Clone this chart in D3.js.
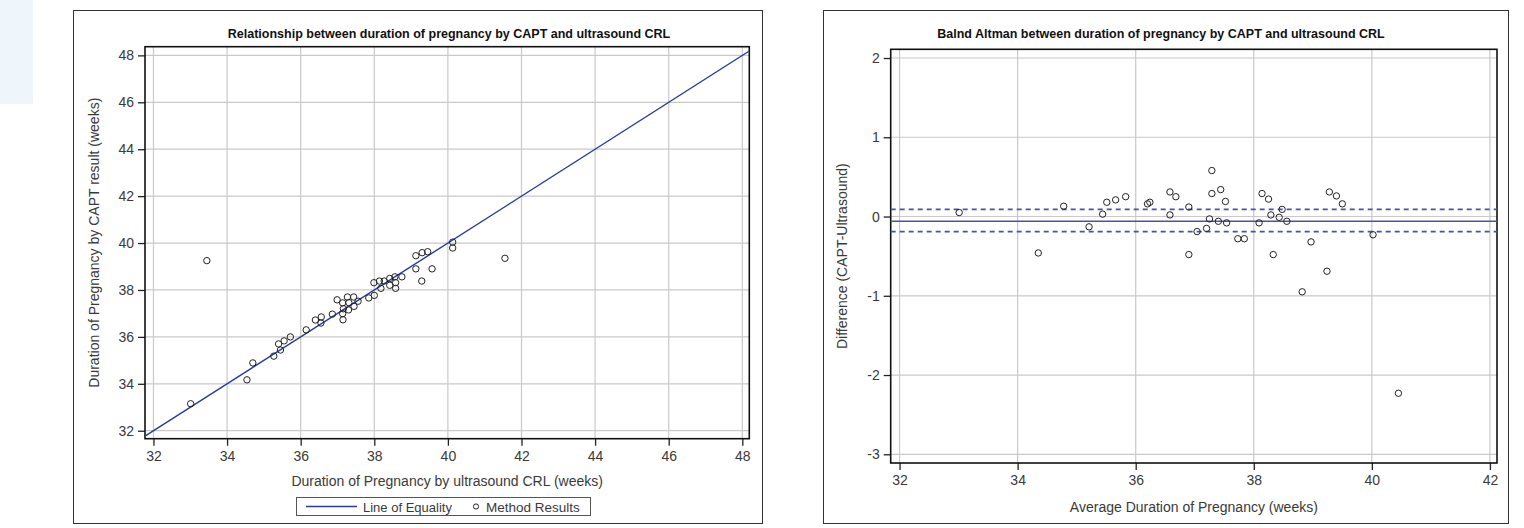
<!DOCTYPE html>
<html>
<head>
<meta charset="utf-8">
<script src="https://cdn.jsdelivr.net/npm/d3@7"></script>
<style>
  body { margin: 0; background: #fff; }
  svg { display: block; font-family: "Liberation Sans", Arial, Helvetica, sans-serif; }
</style>
</head>
<body>
<svg id="chart" width="1524" height="528"></svg>
<script>
// left panel: ultrasound CRL (x) vs CAPT (y)
const us_weeks = [33.01, 33.45, 34.54, 34.70, 35.27, 35.45, 35.40, 35.55, 35.72, 36.15,
  36.40, 36.55, 36.56, 36.86, 37.14, 37.15, 37.16, 37.30, 37.45, 36.99,
  37.27, 37.44, 37.14, 37.31, 37.56, 37.85, 38.00, 37.99, 38.14, 38.27,
  38.42, 38.56, 38.75, 38.58, 38.42, 38.58, 38.18, 39.13, 39.30, 39.45,
  39.13, 39.57, 39.29, 40.13, 40.13, 41.55];
const capt_weeks = [33.15, 39.25, 34.17, 34.89, 35.18, 35.44, 35.70, 35.83, 36.00, 36.30,
  36.72, 36.59, 36.85, 36.97, 36.99, 36.73, 37.20, 37.15, 37.30, 37.58,
  37.70, 37.70, 37.45, 37.46, 37.52, 37.66, 37.77, 38.31, 38.38, 38.38,
  38.49, 38.56, 38.56, 38.31, 38.20, 38.07, 38.07, 39.46, 39.59, 39.63,
  38.90, 38.90, 38.38, 40.04, 39.79, 39.35];

// right panel: Bland Altman
const avg_weeks = [33.01, 34.78, 35.21, 34.35, 35.44, 35.51, 35.66, 35.83, 36.20, 36.24,
  36.58, 36.68, 36.58, 36.90, 36.90, 37.04, 37.29, 37.29, 37.44, 37.52,
  37.25, 37.20, 37.40, 37.54, 37.73, 37.84, 38.09, 38.14, 38.25, 38.29,
  38.43, 38.48, 38.56, 38.33, 38.97, 39.28, 39.40, 39.50, 39.24, 40.02,
  38.82, 40.45];
const diff_weeks = [0.05, 0.13, -0.13, -0.46, 0.03, 0.18, 0.21, 0.25, 0.16, 0.18,
  0.31, 0.25, 0.02, 0.12, -0.48, -0.19, 0.58, 0.29, 0.34, 0.19,
  -0.03, -0.15, -0.06, -0.08, -0.28, -0.28, -0.08, 0.29, 0.22, 0.02,
  -0.01, 0.09, -0.06, -0.48, -0.32, 0.31, 0.26, 0.16, -0.69, -0.23,
  -0.95, -2.23];
const ba_mean = -0.06, ba_upper = 0.09, ba_lower = -0.19;

const left_ticks = [32, 34, 36, 38, 40, 42, 44, 46, 48];
const right_x_ticks = [32, 34, 36, 38, 40, 42];
const right_y_ticks = [-3, -2, -1, 0, 1, 2];

const svg = d3.select("#chart");
const grid_color = "#c9c9c9", text_color = "#3a3a3a";
const label_size = "14px", tick_size = "14px";

// faint tint at the top-left corner of the page
svg.append("rect").attr("x", 0).attr("y", 0).attr("width", 33).attr("height", 104).attr("fill", "#eef5fb");

// outer frames
svg.append("rect").attr("x", 73.5).attr("y", 10.5).attr("width", 689).attr("height", 513)
  .attr("fill", "none").attr("stroke", "#333");
svg.append("rect").attr("x", 823.5).attr("y", 10.5).attr("width", 685).attr("height", 513)
  .attr("fill", "none").attr("stroke", "#333");

const draw_panel = (cfg) => {
  const { x, y, xticks, yticks, title, title_x, xlabel, ylabel, ylabel_x, xlabel_y, id } = cfg;
  const [x0, x1] = x.range(), [y0, y1] = y.range();

  svg.append("clipPath").attr("id", id)
    .append("rect").attr("x", x0).attr("y", y1).attr("width", x1 - x0).attr("height", y0 - y1);

  const g = svg.append("g");
  g.selectAll(".vg").data(xticks).join("line")
    .attr("x1", d => x(d)).attr("x2", d => x(d)).attr("y1", y1).attr("y2", y0)
    .attr("stroke", grid_color).attr("stroke-width", 1.2);
  g.selectAll(".hg").data(yticks).join("line")
    .attr("x1", x0).attr("x2", x1).attr("y1", d => y(d)).attr("y2", d => y(d))
    .attr("stroke", grid_color).attr("stroke-width", 1.2);

  const xa = svg.append("g").attr("transform", `translate(0,${y0})`)
    .call(d3.axisBottom(x).tickValues(xticks).tickSize(7).tickPadding(5).tickFormat(d => String(d)));
  const ya = svg.append("g").attr("transform", `translate(${x0},0)`)
    .call(d3.axisLeft(y).tickValues(yticks).tickSize(7).tickPadding(4).tickFormat(d => String(d)));
  [xa, ya].forEach(a => {
    a.attr("font-size", null).attr("font-family", null);
    a.select(".domain").remove();
    a.selectAll("line").attr("stroke", "#222").attr("stroke-width", 1.3);
    a.selectAll("text").attr("fill", text_color).style("font-size", tick_size);
  });

  svg.append("rect").attr("x", x0).attr("y", y1).attr("width", x1 - x0).attr("height", y0 - y1)
    .attr("fill", "none").attr("stroke", "#111").attr("stroke-width", 1.6);

  svg.append("text").attr("x", title_x).attr("y", 38).attr("text-anchor", "middle")
    .style("font-size", "12.5px").style("font-weight", "bold").attr("fill", "#111").text(title);
  svg.append("text").attr("x", (x0 + x1) / 2).attr("y", xlabel_y).attr("text-anchor", "middle")
    .style("font-size", label_size).attr("fill", text_color).text(xlabel);
  svg.append("text").attr("transform", `translate(${ylabel_x},${(y0 + y1) / 2}) rotate(-90)`)
    .attr("text-anchor", "middle").style("font-size", label_size).attr("fill", text_color).text(ylabel);
};

// ---- left panel
const xL = d3.scaleLinear().domain([31.77, 48.19]).range([145, 749.3]);
const yL = d3.scaleLinear().domain([31.66, 48.37]).range([438.7, 46.7]);
draw_panel({
  x: xL, y: yL, xticks: left_ticks, yticks: left_ticks, id: "clipL",
  title: "Relationship between duration of pregnancy by CAPT and ultrasound CRL", title_x: 449,
  xlabel: "Duration of Pregnancy by ultrasound CRL (weeks)", xlabel_y: 486,
  ylabel: "Duration of Pregnancy by CAPT result (weeks)", ylabel_x: 99
});

const eq = [31, 49];
svg.append("line").attr("clip-path", "url(#clipL)")
  .attr("x1", xL(eq[0])).attr("y1", yL(eq[0])).attr("x2", xL(eq[1])).attr("y2", yL(eq[1]))
  .attr("stroke", "#2b3b9e").attr("stroke-width", 1.4);

svg.append("g").selectAll("circle").data(us_weeks.map((d, i) => [d, capt_weeks[i]])).join("circle")
  .attr("cx", d => xL(d[0])).attr("cy", d => yL(d[1])).attr("r", 3.2)
  .attr("fill", "none").attr("stroke", "#222").attr("stroke-width", 1);

// legend
const lg = svg.append("g");
lg.append("rect").attr("x", 296.5).attr("y", 497.5).attr("width", 294).attr("height", 18)
  .attr("fill", "#fff").attr("stroke", "#555");
lg.append("line").attr("x1", 306).attr("x2", 357).attr("y1", 506.5).attr("y2", 506.5)
  .attr("stroke", "#2b3b9e").attr("stroke-width", 1.4);
lg.append("text").attr("x", 363).attr("y", 511.5).style("font-size", "13px").attr("fill", text_color).text("Line of Equality");
lg.append("circle").attr("cx", 476).attr("cy", 506.5).attr("r", 2.6).attr("fill", "none").attr("stroke", "#222");
lg.append("text").attr("x", 486).attr("y", 511.5).style("font-size", "13.5px").attr("fill", text_color).text("Method Results");

// ---- right panel
const xR = d3.scaleLinear().domain([31.85, 42.12]).range([890.7, 1497]);
const yR = d3.scaleLinear().domain([-3.11, 2.11]).range([463, 49.3]);
draw_panel({
  x: xR, y: yR, xticks: right_x_ticks, yticks: right_y_ticks, id: "clipR",
  title: "Balnd Altman between duration of pregnancy by CAPT and ultrasound CRL", title_x: 1161,
  xlabel: "Average Duration of Pregnancy (weeks)", xlabel_y: 512,
  ylabel: "Difference (CAPT-Ultrasound)", ylabel_x: 847
});

const ba_lines = [
  { v: ba_upper, dash: "5,4" },
  { v: ba_mean, dash: null },
  { v: ba_lower, dash: "5,4" }
];
svg.append("g").selectAll("line").data(ba_lines).join("line")
  .attr("x1", xR.range()[0]).attr("x2", xR.range()[1])
  .attr("y1", d => yR(d.v)).attr("y2", d => yR(d.v))
  .attr("stroke", "#4555aa").attr("stroke-width", 1.6)
  .attr("stroke-dasharray", d => d.dash);

svg.append("g").selectAll("circle").data(avg_weeks.map((d, i) => [d, diff_weeks[i]])).join("circle")
  .attr("cx", d => xR(d[0])).attr("cy", d => yR(d[1])).attr("r", 3.2)
  .attr("fill", "none").attr("stroke", "#222").attr("stroke-width", 1);
</script>
</body>
</html>
